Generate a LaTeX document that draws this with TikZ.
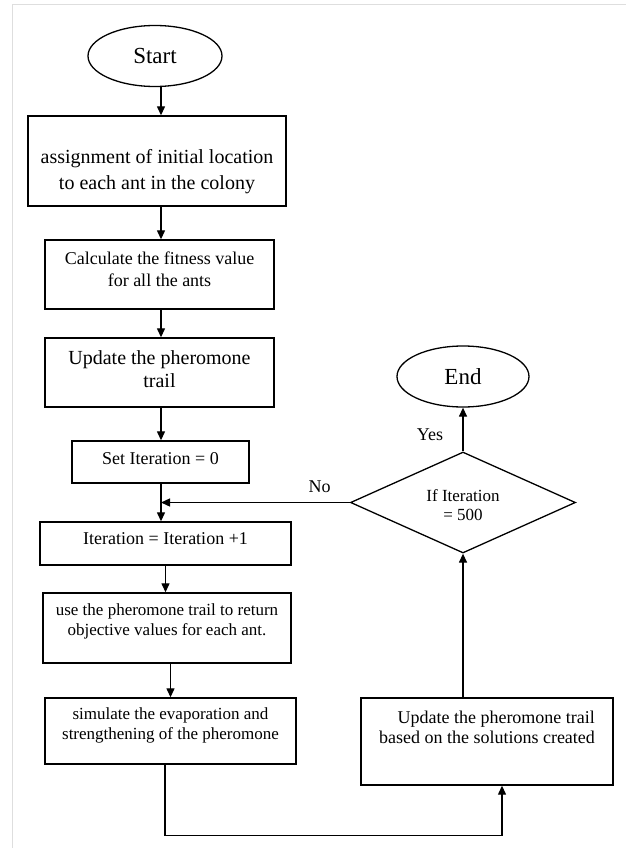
\documentclass[tikz,border=0pt]{standalone}
\usepackage{fontspec}
\setmainfont{Liberation Serif}
\usetikzlibrary{shapes.geometric}
\usetikzlibrary{arrows.meta}
\newcommand{\fsz}[2]{\fontsize{#1}{#2}\selectfont}
\tikzset{
    stepnode/.style = {rectangle, draw=black, line width=1.4pt, inner sep=0pt},
    termnode/.style = {ellipse, draw=black, line width=1.3pt, inner sep=0pt},
    decnode/.style = {diamond, draw=black, line width=1.3pt, inner sep=0pt, aspect=2.2},
    txt/.style = {align=center, text=black, inner sep=0pt},
    edgea/.style = {-{Triangle[length=9pt,width=8pt]}, line width=1.3pt, black},
    edgef/.style = {-, line width=1pt, black!13}
}

\begin{document}
\begin{tikzpicture}[x=1pt, y=-1pt]
  \useasboundingbox (0,0) rectangle (626,848);
  \draw[edgef] (12,848) -- (12,5) -- (626,5);
  \coordinate (col) at (161,0);

  \node[termnode, minimum width=134pt, minimum height=61pt, font=\fsz{23}{27}] (start) at (155,56) {Start};
  \node[stepnode, minimum width=258pt, minimum height=90pt,
    label={[txt, yshift=-11pt, font=\fsz{20}{26}]center:assignment of initial location\\to each ant in the colony}] (init) at (157,161) {};
  \node[stepnode, minimum width=229pt, minimum height=69pt,
    label={[txt, yshift=5.5pt, font=\fsz{18}{22}]center:Calculate the fitness value\\for all the ants}] (fit) at (159.5,274.5) {};
  \node[stepnode, minimum width=229pt, minimum height=69pt,
    label={[txt, yshift=3pt, font=\fsz{20}{23}]center:Update the pheromone\\trail}] (upd1) at (159.5,372.5) {};
  \node[stepnode, minimum width=177pt, minimum height=42pt,
    label={[txt, yshift=3pt, font=\fsz{18}{22}]center:Set Iteration = 0}] (set0) at (160.5,462) {};
  \node[stepnode, minimum width=251pt, minimum height=43pt,
    label={[txt, yshift=4.5pt, font=\fsz{18}{22}]center:Iteration = Iteration +1}] (iter) at (165.5,543.5) {};
  \node[stepnode, minimum width=248pt, minimum height=70pt,
    label={[txt, yshift=7pt, font=\fsz{17}{20}]center:use the pheromone trail to return\\objective values for each ant.}] (eval) at (167,628) {};
  \node[stepnode, minimum width=251pt, minimum height=66pt,
    label={[txt, yshift=6pt, font=\fsz{17}{20}]center:simulate the evaporation and\\strengthening of the pheromone}] (evap) at (170.5,731) {};
  \node[stepnode, minimum width=252pt, minimum height=87pt,
    label={[txt, align=right, yshift=14.5pt, font=\fsz{18}{20}]center:Update the pheromone trail\\based on the solutions created}] (upd2) at (487,741.5) {};
  \node[decnode, minimum width=225pt, minimum height=101pt,
    label={[txt, yshift=-2.5pt, font=\fsz{17}{19}]center:If Iteration\\= 500}] (test) at (463,502.5) {};
  \node[termnode, minimum width=132pt, minimum height=61pt, font=\fsz{23}{27}] (stop) at (463,376.5) {End};

  % main column
  \draw[edgea] (col |- start.south) -- (col |- init.north);
  \draw[edgea] (col |- init.south) -- (col |- fit.north);
  \draw[edgea] (col |- fit.south) -- (col |- upd1.north);
  \draw[edgea] (col |- upd1.south) -- (col |- set0.north);
  \draw[edgea] (col |- set0.south) -- (col |- iter.north);
  \draw[edgea] (iter.south) -- (iter.south |- eval.north);
  \draw[edgea] (evap.north |- eval.south) -- (evap.north);
  % loop back
  \draw[edgea] ([xshift=-5.5pt]evap.south) -- ++(0,71) -| ([xshift=15pt]upd2.south);
  \draw[edgea] (test.south |- upd2.north) -- (test.south);
  \draw[edgea] (test.west) -- node[pos=0.16, above=6pt, font=\fsz{18}{22}] (no) {No} (col |- test.west);
  \draw[edgea] (test.north) -- node[pos=0.38, left=16pt, font=\fsz{18}{22}] (yes) {Yes} (stop.south);
\end{tikzpicture}
\end{document}
